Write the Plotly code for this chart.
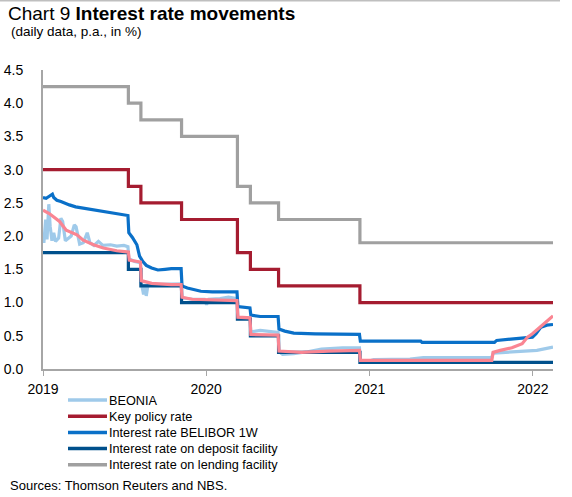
import plotly.graph_objects as go

# ---- Policy-rate corridor (step series, change dates) ----
policy_dates = ["2019-01-01", "2019-07-11", "2019-08-08", "2019-11-07",
                "2020-03-11", "2020-04-09", "2020-06-11", "2020-12-10", "2022-02-15"]
key_policy_rate = [3.00, 2.75, 2.50, 2.25, 1.75, 1.50, 1.25, 1.00, 1.00]
deposit_facility = [1.75, 1.50, 1.25, 1.00, 0.75, 0.50, 0.25, 0.10, 0.10]
lending_facility = [4.25, 4.00, 3.75, 3.50, 2.75, 2.50, 2.25, 1.90, 1.90]

# ---- BELIBOR 1W ----
belibor_dates = ["2019-01-01", "2019-01-08", "2019-01-15", "2019-01-22", "2019-01-25",
                 "2019-02-01", "2019-02-10", "2019-02-20", "2019-03-01", "2019-03-15",
                 "2019-04-01", "2019-04-15", "2019-05-01", "2019-05-15", "2019-06-01",
                 "2019-06-15", "2019-07-01", "2019-07-10", "2019-07-12", "2019-07-20",
                 "2019-07-30", "2019-08-05", "2019-08-12", "2019-08-20", "2019-09-01",
                 "2019-09-15", "2019-10-01", "2019-10-15", "2019-11-06", "2019-11-08",
                 "2019-11-20", "2019-12-01", "2019-12-20", "2020-01-15", "2020-02-15",
                 "2020-03-10", "2020-03-12", "2020-04-01", "2020-04-08", "2020-04-10",
                 "2020-05-01", "2020-06-10", "2020-06-12", "2020-06-25", "2020-07-15",
                 "2020-09-01", "2020-12-09", "2020-12-11", "2021-04-25", "2021-04-28",
                 "2021-10-07", "2021-10-12", "2021-11-15", "2021-12-01", "2021-12-31",
                 "2022-01-08", "2022-01-19", "2022-02-01", "2022-02-15"]
belibor_1w = [2.58, 2.57, 2.60, 2.63, 2.58,
              2.54, 2.52, 2.49, 2.47, 2.44,
              2.42, 2.41, 2.39, 2.38, 2.36,
              2.34, 2.32, 2.31, 2.05, 1.98,
              1.87, 1.70, 1.62, 1.56, 1.52,
              1.49, 1.50, 1.51, 1.51, 1.25,
              1.22, 1.20, 1.17, 1.16, 1.16,
              1.16, 0.94, 0.93, 0.92, 0.81,
              0.79, 0.79, 0.60, 0.57, 0.54,
              0.53, 0.52, 0.42, 0.42, 0.40,
              0.40, 0.43, 0.45, 0.46, 0.48,
              0.53, 0.63, 0.66, 0.67]

# ---- BEONIA ----
beonia_dates = ["2019-01-01", "2019-01-03", "2019-01-07", "2019-01-10", "2019-01-14",
                "2019-01-17", "2019-01-21", "2019-01-25", "2019-01-29", "2019-02-05",
                "2019-02-10", "2019-02-14", "2019-02-20", "2019-02-26", "2019-03-05",
                "2019-03-12", "2019-03-16", "2019-03-24", "2019-04-01", "2019-04-10",
                "2019-04-16", "2019-04-25", "2019-05-05", "2019-05-15", "2019-06-01",
                "2019-06-15", "2019-07-01", "2019-07-10", "2019-07-12", "2019-07-25",
                "2019-08-07", "2019-08-09", "2019-08-14", "2019-08-17", "2019-08-20",
                "2019-08-24", "2019-09-10", "2019-10-01", "2019-11-06", "2019-11-08",
                "2019-12-01", "2019-12-28", "2020-01-02", "2020-01-07", "2020-02-01",
                "2020-02-20", "2020-03-10", "2020-03-12", "2020-04-08", "2020-04-10",
                "2020-05-01", "2020-06-10", "2020-06-12", "2020-06-20", "2020-07-15",
                "2020-08-15", "2020-09-15", "2020-11-01", "2020-12-09", "2020-12-11",
                "2020-12-25", "2021-01-10", "2021-02-15", "2021-04-01", "2021-05-01",
                "2021-07-01", "2021-10-01", "2021-10-04", "2021-11-01", "2021-12-15",
                "2022-01-10", "2022-02-01", "2022-02-15"]
beonia = [2.05, 1.90, 2.25, 1.95, 2.48,
          2.15, 1.93, 2.05, 1.92, 1.97,
          2.27, 2.22, 1.93, 1.96, 2.00,
          2.17, 2.14, 1.88, 1.90, 2.05,
          1.90, 1.86, 1.92, 1.86, 1.87,
          1.85, 1.86, 1.84, 1.66, 1.62,
          1.60, 1.30, 1.12, 1.28, 1.10,
          1.27, 1.27, 1.28, 1.28, 1.07,
          1.05, 1.05, 0.97, 1.05, 1.06,
          1.08, 1.06, 0.77, 0.76, 0.56,
          0.58, 0.55, 0.26, 0.22, 0.23,
          0.26, 0.30, 0.32, 0.32, 0.14,
          0.11, 0.14, 0.14, 0.15, 0.17,
          0.17, 0.17, 0.24, 0.25, 0.26,
          0.28, 0.31, 0.33]

# ---- Unlabelled pink series ----
pink_dates = ["2019-01-01", "2019-01-15", "2019-02-07", "2019-02-22", "2019-03-18",
              "2019-04-01", "2019-04-24", "2019-05-16", "2019-06-15", "2019-07-11",
              "2019-07-13", "2019-08-07", "2019-08-09", "2019-09-01", "2019-10-15",
              "2019-11-06", "2019-11-08", "2019-12-01", "2020-03-10", "2020-03-12",
              "2020-04-08", "2020-04-10", "2020-06-10", "2020-06-12", "2020-08-01",
              "2020-10-01", "2020-12-09", "2020-12-11", "2021-10-01", "2021-10-04",
              "2021-10-20", "2021-11-15", "2021-12-08", "2021-12-20", "2021-12-31",
              "2022-01-15", "2022-02-01", "2022-02-15"]
pink_rate = [2.39, 2.34, 2.22, 2.09, 2.02,
             1.94, 1.87, 1.82, 1.78, 1.76,
             1.64, 1.61, 1.33, 1.29, 1.27,
             1.27, 1.08, 1.05, 1.03, 0.78,
             0.77, 0.52, 0.51, 0.27, 0.25,
             0.27, 0.28, 0.13, 0.13, 0.25,
             0.28, 0.32, 0.38, 0.48, 0.53,
             0.62, 0.72, 0.80]

year_ticks = ["2019-01-01", "2020-01-01", "2021-01-01", "2022-01-01"]
year_labels = ["2019", "2020", "2021", "2022"]
y_ticks = [0.0, 0.5, 1.0, 1.5, 2.0, 2.5, 3.0, 3.5, 4.0, 4.5]

FONT = "Liberation Sans, Arial, sans-serif"
LW = 3.2

# Plot-area geometry in pixels (used to place the texts and legend keys)
W, H = 572, 497
PL, PR, PT, PB = 43, 19, 70, 128
PW, PH = W - PL - PR, H - PT - PB


def px_x(px):
    return (px - PL) / PW


def px_y(py):
    return (H - PB - py) / PH


series = [
    # name, x, y, colour, step-shaped
    ("BEONIA", beonia_dates, beonia, "#9FCAEA", False),
    ("Key policy rate", policy_dates, key_policy_rate, "#A51C30", True),
    ("Interest rate on lending facility", policy_dates, lending_facility, "#A0A0A0", True),
    ("Interest rate BELIBOR 1W", belibor_dates, belibor_1w, "#0A70C8", False),
    ("Interest rate on deposit facility", policy_dates, deposit_facility, "#00508C", True),
    ("", pink_dates, pink_rate, "#FA8592", False),
]
legend_order = ["BEONIA", "Key policy rate", "Interest rate BELIBOR 1W",
                "Interest rate on deposit facility", "Interest rate on lending facility"]

fig = go.Figure()
for name, xs, ys, color, step in series:
    fig.add_trace(go.Scatter(x=xs, y=ys, mode="lines", name=name or None,
                             line_shape="hv" if step else "linear",
                             line=dict(color=color, width=LW),
                             showlegend=False))

# Legend block below the axis: coloured key line + label per series
colour_of = {s[0]: s[3] for s in series}
legend_shapes, legend_texts = [], []
for i, name in enumerate(legend_order):
    cy = 400 + i * 16.2
    legend_shapes.append(dict(type="line", xref="paper", yref="paper",
                              x0=px_x(68), x1=px_x(107), y0=px_y(cy), y1=px_y(cy),
                              line=dict(color=colour_of[name], width=3.5)))
    legend_texts.append(dict(text=name, xref="paper", yref="paper",
                             x=px_x(107), y=px_y(cy + 0.5), xanchor="left",
                             yanchor="middle", showarrow=False,
                             font=dict(family=FONT, size=12.7, color="#000000")))

fig.update_layout(
    width=W, height=H,
    margin=dict(l=PL, r=PR, t=PT, b=PB, autoexpand=False),
    paper_bgcolor="white", plot_bgcolor="white",
    font=dict(family=FONT, size=14, color="#000000"),
    showlegend=False,
    title=dict(text="Chart 9 <b>Interest rate movements</b>",
               xref="container", yref="container", x=8 / W, y=1 - 13.5 / H,
               xanchor="left", yanchor="middle",
               font=dict(family=FONT, size=19, color="#000000")),
    xaxis=dict(type="date", range=["2019-01-01", "2022-02-15"],
               tickvals=year_ticks, ticktext=year_labels,
               showgrid=False, zeroline=False,
               showline=True, linecolor="#A6A6A6", linewidth=1.5,
               ticks="outside", ticklen=5, tickwidth=1, tickcolor="#A6A6A6",
               ticklabelstandoff=1, tickfont=dict(size=14)),
    yaxis=dict(range=[0, 4.5], tickvals=y_ticks,
               ticktext=[f"{v:.1f}" for v in y_ticks],
               showgrid=False, zeroline=False,
               showline=True, linecolor="#A6A6A6", linewidth=2,
               ticks="", ticklabelstandoff=15, tickfont=dict(size=14)),
    annotations=[
        dict(text="(daily data, p.a., in %)", xref="paper", yref="paper",
             x=px_x(9), y=px_y(31.5), xanchor="left", yanchor="middle",
             showarrow=False, font=dict(family=FONT, size=13.5, color="#000000")),
        dict(text="Sources: Thomson Reuters and NBS.", xref="paper", yref="paper",
             x=px_x(8), y=px_y(485), xanchor="left", yanchor="middle",
             showarrow=False, font=dict(family=FONT, size=13, color="#000000")),
    ] + legend_texts,
    shapes=[
        dict(type="line", xref="paper", yref="paper",
             x0=px_x(0), x1=px_x(560), y0=px_y(0.8), y1=px_y(0.8),
             line=dict(color="#BFBFBF", width=1.5)),
    ] + legend_shapes,
)

fig.write_html("out.html")
